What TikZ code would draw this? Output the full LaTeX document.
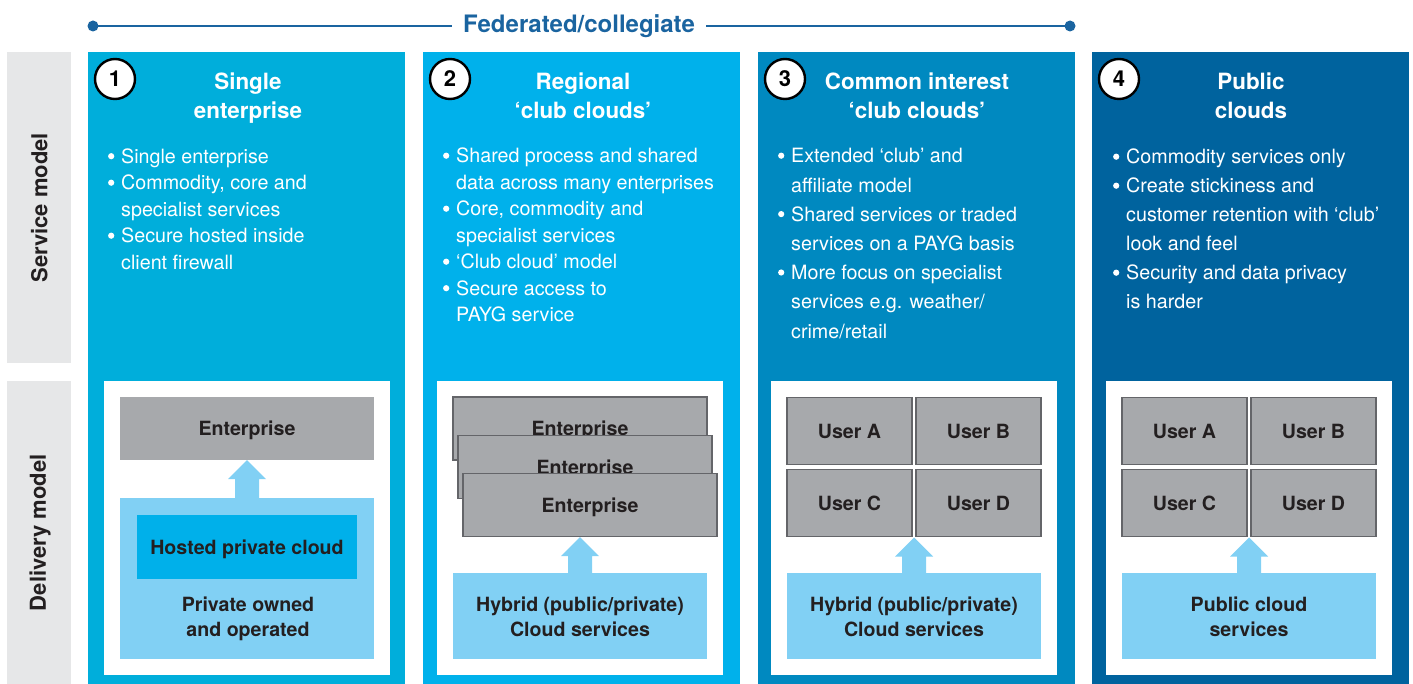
\documentclass[tikz,border=0pt]{standalone}
\usepackage{fontspec}
\setmainfont{TeX Gyre Heros}
\usetikzlibrary{calc}
\definecolor{colA}{RGB}{0,174,219}
\definecolor{colB}{RGB}{0,177,235}
\definecolor{colC}{RGB}{0,137,192}
\definecolor{colD}{RGB}{0,99,158}
\definecolor{hdr}{RGB}{26,100,160}
\definecolor{sidegray}{RGB}{230,231,232}
\definecolor{boxgray}{RGB}{167,169,172}
\definecolor{boxedge}{RGB}{100,101,105}
\definecolor{lblue}{RGB}{129,208,244}
\definecolor{hosted}{RGB}{0,176,234}
\definecolor{ink}{RGB}{35,31,32}
\newcommand\bulf{\fontsize{19.7}{24}\selectfont}
\newcommand\bodyb{\fontsize{19.6}{24}\selectfont\bfseries}
\newcommand\titlef{\fontsize{22.4}{28}\selectfont\bfseries}
\newcommand\mybul[4]{\node[bul] (#1) at (#2,#3) {#4};
  \fill[white] ([xshift=-9.8pt,yshift=7.3pt]#1.base west) circle (3.1pt);}
\newcommand\mycont[4]{\node[bul] (#1) at (#2,#3) {#4};}
\newcommand\liftarrow[2]{\fill[lblue] let \p1=(#1), \p2=(#2) in
  (\x1-12pt,\y1) -- (\x1-12pt,\y2-19pt) -- (\x1-19pt,\y2-19pt) -- (\x1,\y2)
  -- (\x1+19pt,\y2-19pt) -- (\x1+12pt,\y2-19pt) -- (\x1+12pt,\y1) -- cycle;}
\begin{document}
\begin{tikzpicture}[x=1pt,y=-1pt,
  panel/.style={fill=sidegray, inner sep=0pt, anchor=north west, minimum width=64pt},
  sidelabel/.style={rotate=90, font=\fontsize{22}{26}\selectfont\bfseries, text=ink, inner sep=0pt},
  colbox/.style={inner sep=0pt, anchor=north west, minimum width=317pt, minimum height=632pt},
  whitebox/.style={fill=white, inner sep=0pt, minimum width=286pt, minimum height=294pt},
  gbox/.style={fill=boxgray, inner sep=0pt, text=ink, font=\bodyb, text height=14pt, text depth=0pt},
  gboxe/.style={gbox, draw=boxedge, line width=1.1pt},
  lbox/.style={fill=lblue, inner sep=0pt},
  dtext/.style={text=ink, font=\bodyb, inner sep=0pt, anchor=base},
  ttl/.style={text=white, font=\titlef, inner sep=0pt, anchor=base},
  num/.style={circle, draw=black, fill=white, line width=2.4pt, minimum size=40pt, inner sep=0pt,
    font=\fontsize{22}{26}\selectfont\bfseries, text=black},
  bul/.style={text=white, font=\bulf, inner sep=0pt, anchor=base west}
]
\useasboundingbox (0,0) rectangle (1413,684);
\fill[white] (0,0) rectangle (1413,684);

% header
\coordinate (dl) at (93,26);
\coordinate (dr) at (1070,26);
\node[font=\fontsize{24}{28}\selectfont\bfseries, text=hdr, inner xsep=11pt, inner ysep=0pt, anchor=base] (fed) at (579,32.5) {Federated/collegiate};
\draw[hdr, line width=1.8pt] (dl) -- (dl -| fed.west);
\draw[hdr, line width=1.8pt] (dl -| fed.east) -- (dr);
\fill[hdr] (dl) circle (5.5pt);
\fill[hdr] (dr) circle (5.5pt);

% side panels
\node[panel, minimum height=311pt] (svc) at (7,52) {};
\node[panel, minimum height=303pt] (dlv) at (7,381) {};
\node[sidelabel] (svcl) at (svc.center) {Service model};
\node[sidelabel] (dlvl) at ([xshift=1pt]dlv.center) {Delivery model};

% columns
\node[colbox, fill=colA] (c1) at (88,52) {};
\node[colbox, fill=colB] (c2) at (423,52) {};
\node[colbox, fill=colC] (c3) at (758,52) {};
\node[colbox, fill=colD] (c4) at (1092,52) {};

% numbers
\node[num] (n1) at (115,79) {1};
\node[num] (n2) at (450,79) {2};
\node[num] (n3) at (785,79) {3};
\node[num] (n4) at (1119,79) {4};

% titles
\node[ttl] (t1a) at (248,90) {Single};
\node[ttl] (t1b) at (248,119) {enterprise};
\node[ttl] (t2a) at (583,90) {Regional};
\node[ttl] (t2b) at (583,119) {‘club clouds’};
\node[ttl] (t3a) at (917,90) {Common interest};
\node[ttl] (t3b) at (917,119) {‘club clouds’};
\node[ttl] (t4a) at (1251,90) {Public};
\node[ttl] (t4b) at (1251,119) {clouds};

% bullets column 1
\mybul{b11}{121}{163.5}{Single enterprise}
\mybul{b12}{121}{190}{Commodity, core and}
\mycont{b13}{121}{216.5}{specialist services}
\mybul{b14}{121}{243}{Secure hosted inside}
\mycont{b15}{121}{269.5}{client firewall}
% bullets column 2
\mybul{b21}{456}{163}{Shared process and shared}
\mycont{b22}{456}{189.5}{data across many enterprises}
\mybul{b23}{456}{216}{Core, commodity and}
\mycont{b24}{456}{242.5}{specialist services}
\mybul{b25}{456}{269}{‘Club cloud’ model}
\mybul{b26}{456}{295.5}{Secure access to}
\mycont{b27}{456}{322}{PAYG service}
% bullets column 3
\mybul{b31}{791}{163}{Extended ‘club’ and}
\mycont{b32}{791}{192.2}{affiliate model}
\mybul{b33}{791}{221.4}{Shared services or traded}
\mycont{b34}{791}{250.6}{services on a PAYG basis}
\mybul{b35}{791}{279.8}{More focus on specialist}
\mycont{b36}{791}{309}{services e.g. weather/}
\mycont{b37}{791}{338.2}{crime/retail}
% bullets column 4
\mybul{b41}{1126}{164}{Commodity services only}
\mybul{b42}{1126}{193}{Create stickiness and}
\mycont{b43}{1126}{222}{customer retention with ‘club’}
\mycont{b44}{1126}{251}{look and feel}
\mybul{b45}{1126}{280}{Security and data privacy}
\mycont{b46}{1126}{309}{is harder}

% white delivery boxes
\node[whitebox] (w1) at (247,528) {};
\node[whitebox] (w2) at (580,528) {};
\node[whitebox] (w3) at (914,528) {};
\node[whitebox] (w4) at (1249,528) {};

% column 1 delivery
\node[gbox, minimum width=254pt, minimum height=63pt] (e1) at (247,428.5) {Enterprise};
\node[lbox, minimum width=254pt, minimum height=161pt] (p1) at (247,578.5) {};
\node[gbox, fill=hosted, minimum width=220pt, minimum height=64pt] (h1) at (247,547) {Hosted private cloud};
\node[dtext] (p1a) at (248,611) {Private owned};
\node[dtext] (p1b) at (248,636.5) {and operated};
\liftarrow{p1.north}{e1.south}

% column 2 delivery
\node[gboxe, minimum width=254pt, minimum height=63pt] (e21) at (580,428.5) {Enterprise};
\node[gboxe, minimum width=254pt, minimum height=63pt] (e22) at (585,467) {Enterprise};
\node[gboxe, minimum width=254pt, minimum height=63pt] (e23) at (590,505) {Enterprise};
\node[lbox, minimum width=254pt, minimum height=86pt] (hy2) at (580,616) {};
\node[dtext] (hy2a) at (580,611) {Hybrid (public/private)};
\node[dtext] (hy2b) at (580,636.5) {Cloud services};
\liftarrow{hy2.north}{e23.south}

% column 3 delivery
\node[gboxe, minimum width=125pt, minimum height=67pt] (u3a) at (849.5,431) {User A};
\node[gboxe, minimum width=125pt, minimum height=67pt] (u3b) at (978.5,431) {User B};
\node[gboxe, minimum width=125pt, minimum height=67pt] (u3c) at (849.5,503) {User C};
\node[gboxe, minimum width=125pt, minimum height=67pt] (u3d) at (978.5,503) {User D};
\coordinate (tip3) at (914,537.5);
\node[lbox, minimum width=254pt, minimum height=86pt] (hy3) at (914,616) {};
\node[dtext] (hy3a) at (914,611) {Hybrid (public/private)};
\node[dtext] (hy3b) at (914,636.5) {Cloud services};
\liftarrow{hy3.north}{tip3}

% column 4 delivery
\node[gboxe, minimum width=125pt, minimum height=67pt] (u4a) at (1184.5,431) {User A};
\node[gboxe, minimum width=125pt, minimum height=67pt] (u4b) at (1313.5,431) {User B};
\node[gboxe, minimum width=125pt, minimum height=67pt] (u4c) at (1184.5,503) {User C};
\node[gboxe, minimum width=125pt, minimum height=67pt] (u4d) at (1313.5,503) {User D};
\coordinate (tip4) at (1249,537.5);
\node[lbox, minimum width=254pt, minimum height=86pt] (pc4) at (1249,616) {};
\node[dtext] (pc4a) at (1249,611) {Public cloud};
\node[dtext] (pc4b) at (1249,636.5) {services};
\liftarrow{pc4.north}{tip4}
\end{tikzpicture}
\end{document}
